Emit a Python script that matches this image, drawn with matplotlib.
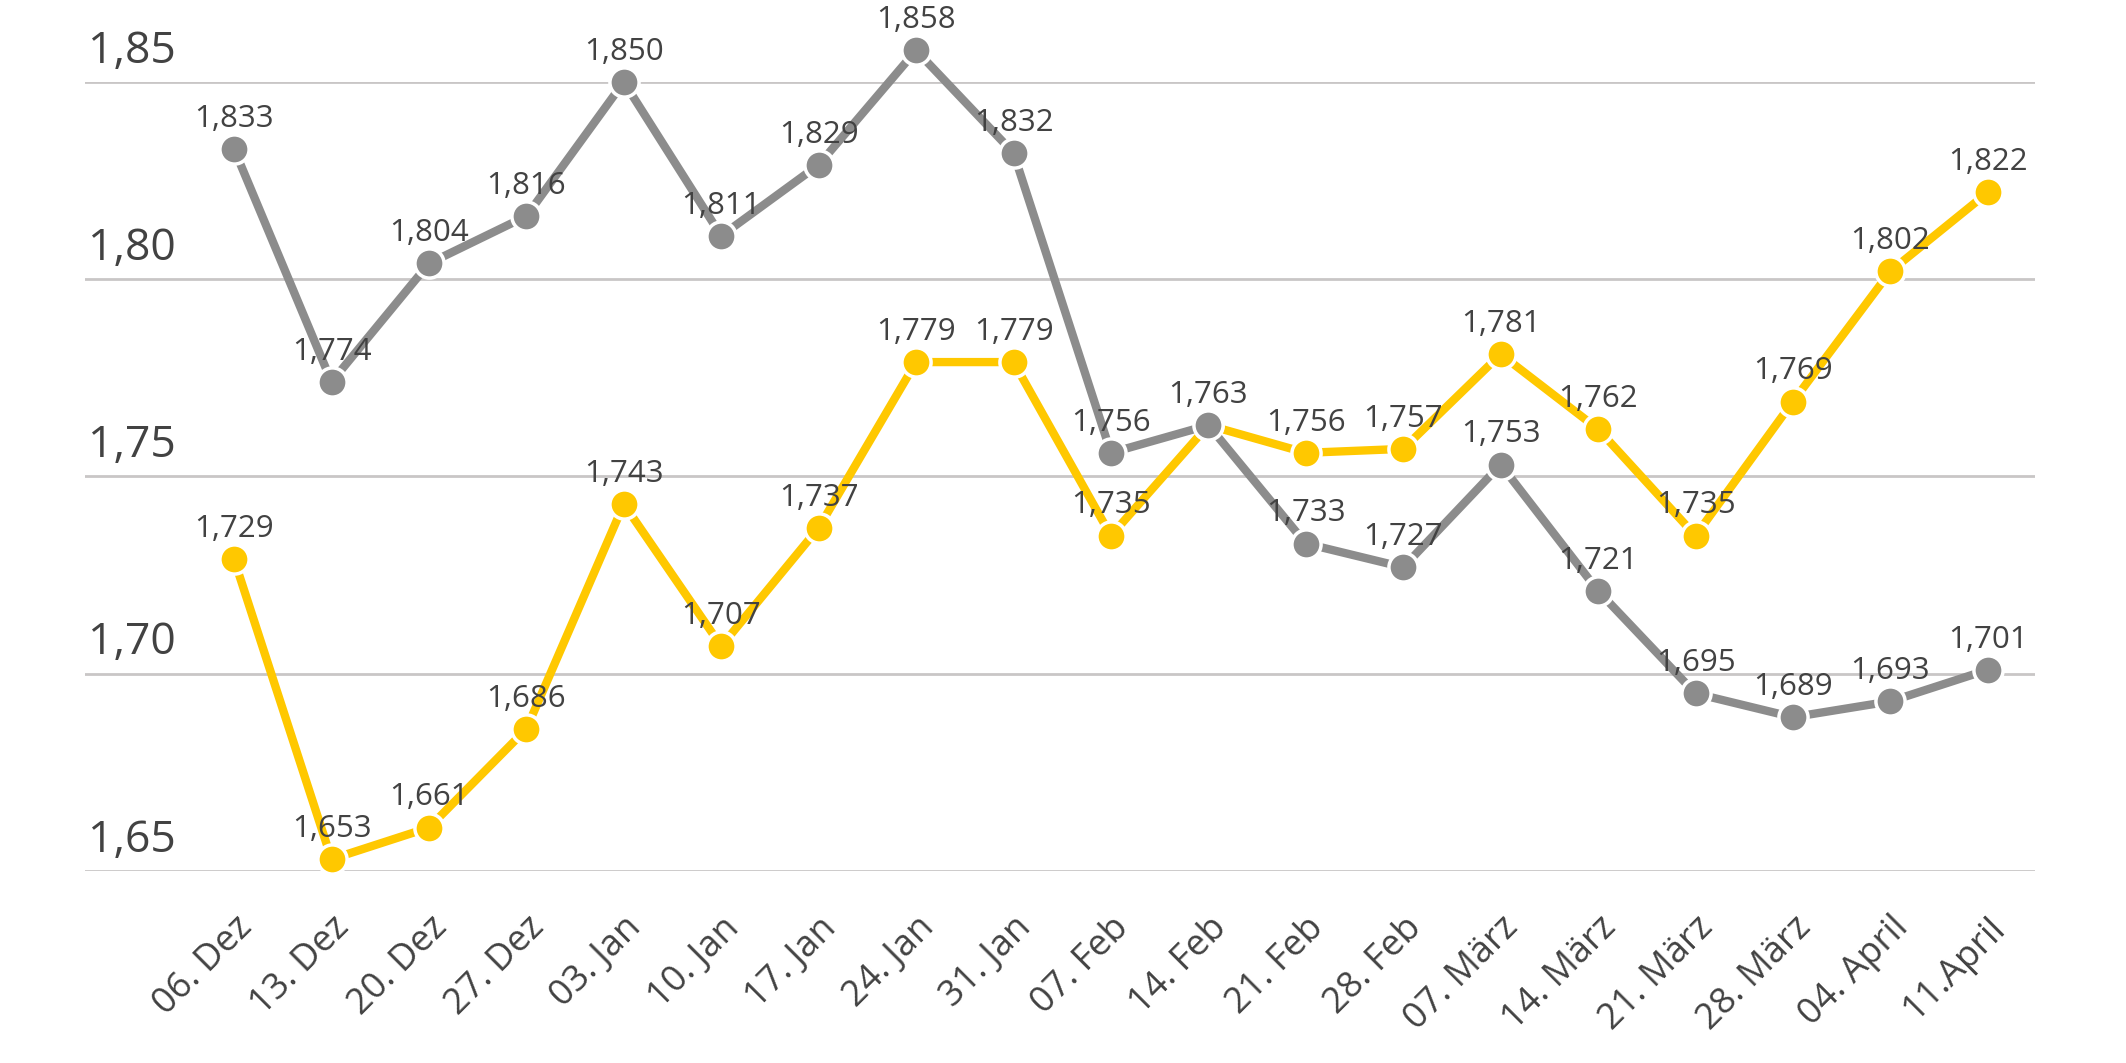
import matplotlib
matplotlib.use("Agg")
import matplotlib.pyplot as plt

plt.rcParams['font.family'] = ['Open Sans', 'DejaVu Sans']

# Daten
wochen = ["06. Dez", "13. Dez", "20. Dez", "27. Dez", "03. Jan", "10. Jan", "17. Jan",
          "24. Jan", "31. Jan", "07. Feb", "14. Feb", "21. Feb", "28. Feb", "07. März",
          "14. März", "21. März", "28. März", "04. April", "11.April"]
grau = [1.833, 1.774, 1.804, 1.816, 1.850, 1.811, 1.829, 1.858, 1.832, 1.756,
        1.763, 1.733, 1.727, 1.753, 1.721, 1.695, 1.689, 1.693, 1.701]
gelb = [1.729, 1.653, 1.661, 1.686, 1.743, 1.707, 1.737, 1.779, 1.779, 1.735,
        1.763, 1.756, 1.757, 1.781, 1.762, 1.735, 1.769, 1.802, 1.822]
y_ticks = [1.65, 1.70, 1.75, 1.80, 1.85]
y_labels = ["1,65", "1,70", "1,75", "1,80", "1,85"]

textfarbe = '#424242'
fig = plt.figure(figsize=(21.26, 10.63), dpi=100)
ax = fig.add_axes([0.040, 0.1806, 0.917, 0.7423])

x = list(range(len(wochen)))

# Linien
ax.plot(x, gelb, color='#ffc800', lw=6, marker='o', ms=21, mfc='#ffc800',
        mec='white', mew=2.5, zorder=3, clip_on=False)
ax.plot(x, grau, color='#8c8c8c', lw=6, marker='o', ms=21, mfc='#8c8c8c',
        mec='white', mew=2.5, zorder=4, clip_on=False)

# Datenbeschriftungen
def fmt(v):
    return f"{v:.3f}".replace('.', ',')

for i, v in enumerate(grau):
    ax.annotate(fmt(v), (i, v), xytext=(0, 11), textcoords='offset points',
                ha='center', va='bottom', fontsize=22.5, color=textfarbe,
                zorder=6, annotation_clip=False)
for i, v in enumerate(gelb):
    if v == grau[i]:
        continue
    ax.annotate(fmt(v), (i, v), xytext=(0, 11), textcoords='offset points',
                ha='center', va='bottom', fontsize=22.5, color=textfarbe,
                zorder=6, annotation_clip=False)

# Achsen
ax.set_xlim(-1.53, 18.48)
ax.set_ylim(1.65, 1.85)
ax.set_yticks(y_ticks)
ax.yaxis.grid(True, color='#c9c6c6', lw=2)
ax.set_axisbelow(True)
ax.tick_params(axis='y', left=False, labelleft=False)
for t, lab in zip(y_ticks, y_labels):
    ax.annotate(lab, (0, t), xycoords=('axes fraction', 'data'), xytext=(2, 6),
                textcoords='offset points', ha='left', va='bottom',
                fontsize=32, color=textfarbe)

ax.set_xticks(x)
ax.set_xticklabels(wochen, rotation=45, ha='right', rotation_mode='anchor',
                   fontsize=26, color=textfarbe)
ax.tick_params(axis='x', length=0, pad=28)

for s in ax.spines.values():
    s.set_visible(False)

fig.savefig("out.png", dpi=100, facecolor='white')
